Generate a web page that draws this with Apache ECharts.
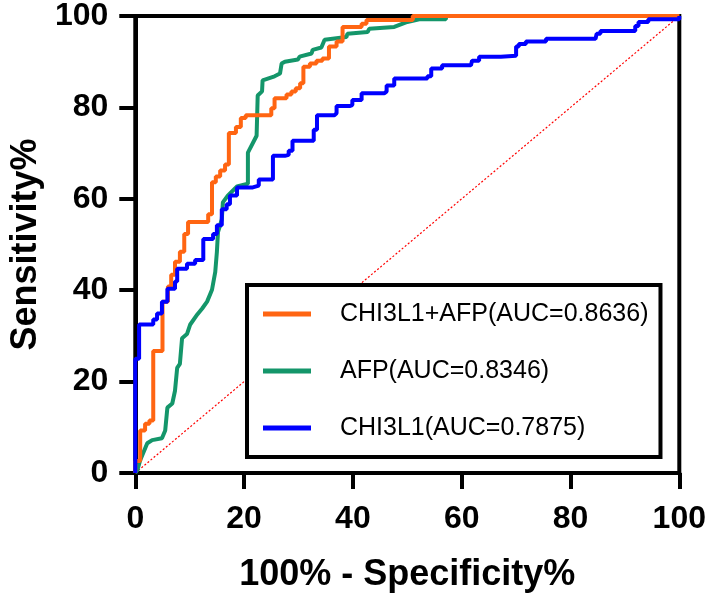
<!DOCTYPE html>
<html>
<head>
<meta charset="utf-8">
<script src="https://cdn.jsdelivr.net/npm/echarts@6/dist/echarts.min.js"></script>
<style>
html,body{margin:0;padding:0;background:#fff;}
#chart{width:709px;height:598px;}
</style>
</head>
<body>
<div id="chart"></div>
<script>
// ---- data (x = 100% - Specificity%, y = Sensitivity%) ----
const seriesNames = ['CHI3L1+AFP(AUC=0.8636)', 'AFP(AUC=0.8346)', 'CHI3L1(AUC=0.7875)'];
const axisTicks = [0, 20, 40, 60, 80, 100];

const comboROC = [[0,0],[0,2.6],[0.9,2.6],[0.9,9.3],[1.8,9.3],[1.8,10.8],[2.6,10.8],[2.6,11.5],[3.3,11.5],[3.3,26.7],[5.0,26.7],[5.0,37.5],[6.0,37.5],[6.0,40.8],[6.6,40.8],[6.6,43.4],[7.3,43.4],[7.3,46.2],[8.2,46.2],[8.2,48.4],[9.0,48.4],[9.0,52.3],[9.7,52.3],[9.7,54.9],[13.4,54.9],[13.4,56.6],[14.1,56.6],[14.1,63.6],[14.8,63.6],[14.8,64.9],[15.6,64.9],[15.6,66.2],[16.5,66.2],[16.5,67.5],[17.2,67.5],[17.2,74.4],[18.5,74.4],[18.5,75.7],[19.4,75.7],[19.4,77.7],[20.3,77.7],[20.3,78.3],[25.0,78.3],[25.0,79.8],[25.6,79.8],[25.6,82.0],[27.8,82.0],[27.8,82.8],[28.7,82.8],[28.7,83.5],[29.5,83.5],[29.5,84.2],[30.3,84.2],[30.3,85.3],[30.9,85.3],[30.9,88.9],[32.1,88.9],[32.1,89.6],[33.3,89.6],[33.3,90.2],[34.4,90.2],[34.4,90.7],[35.6,90.7],[35.6,93.3],[37.0,93.3],[37.0,94.4],[38.1,94.4],[38.1,97.6],[41.6,97.6],[41.6,98.3],[42.5,98.3],[42.5,99.1],[51.0,99.1],[51.0,100],[100,100]];

const afpROC = [[0,0],[0.4,0.7],[0.9,2.8],[2.2,6.5],[3.1,7.2],[4.9,7.6],[5.5,9.3],[5.9,14.3],[6.8,15.2],[7.3,18.0],[7.7,23.0],[8.2,23.9],[8.6,29.5],[9.5,30.4],[10.1,32.5],[11.4,34.7],[12.3,36.0],[13.2,37.5],[14.1,40.1],[14.7,44.0],[15.0,48.4],[15.2,52.7],[15.9,55.5],[16.1,59.2],[17.0,60.7],[18.7,62.7],[20.7,63.3],[20.7,70.1],[22.3,73.8],[22.5,82.6],[23.3,83.5],[23.4,85.9],[25.6,86.8],[26.6,87.4],[26.9,89.6],[27.5,90.0],[29.9,90.5],[30.2,91.1],[32.4,91.8],[32.6,92.6],[34.2,93.1],[34.8,94.8],[38.8,95.4],[39.0,96.1],[42.7,96.5],[43.0,97.2],[47.6,97.6],[50.0,98.7],[52.2,99.3],[57.1,99.3],[57.1,100],[100,100]];

const chi3l1ROC = [[0,0],[0,25],[0.7,25],[0.7,32.5],[2.7,32.5],[3.3,33.6],[4.0,34.9],[4.9,37.5],[5.9,40.3],[7.3,41.9],[7.7,44.7],[9.5,45.8],[11.0,46.6],[12.5,46.9],[12.5,51.2],[14.3,52.3],[15.0,54.2],[15.9,57.7],[16.8,58.8],[17.4,60.7],[18.7,62.5],[21.6,62.9],[22.7,64.2],[25.3,65.1],[25.3,69.4],[27.5,69.6],[28.2,70.5],[28.9,72.7],[32.4,72.7],[32.8,75.1],[33.4,78.3],[36.6,78.7],[37.0,80.3],[39.4,80.5],[39.9,81.6],[41.6,83.1],[45.8,83.5],[46.2,84.8],[47.6,86.3],[53.7,86.8],[54.4,88.5],[56.4,89.2],[61.7,89.2],[61.9,90.2],[63.2,91.1],[67.2,91.3],[70.0,93.3],[70.5,93.9],[71.8,94.4],[75.5,95.0],[84.6,95.0],[84.8,96.1],[85.5,96.7],[91.2,96.7],[91.9,97.8],[92.5,98.7],[94.3,99.3],[97.6,99.3],[100,100]];

const referenceLine = [[0,0],[100,100]];

const colors = ['#FF6512', '#14966A', '#0000FF'];

// ---- chart ----
const FONT = '"Liberation Sans", Arial, Helvetica, sans-serif';
const chart = echarts.init(document.getElementById('chart'), null, {renderer: 'canvas'});

const axisCommon = {
  type: 'value', min: 0, max: 100, interval: 20,
  splitLine: {show: false},
  axisLine: {show: true, onZero: false, lineStyle: {color: '#000', width: 4}},
  axisTick: {show: true, length: 16, lineStyle: {color: '#000', width: 4}},
  nameLocation: 'middle',
  nameTextStyle: {color: '#000', fontFamily: FONT, fontWeight: 'bold', fontSize: 36}
};

chart.setOption({
  animation: false,
  backgroundColor: '#fff',
  grid: {left: 135, right: 28, top: 12, bottom: 125, show: true, borderColor: '#000', borderWidth: 4, backgroundColor: 'transparent'},
  xAxis: Object.assign({}, axisCommon, {
    name: '100% - Specificity%', nameGap: 84,
    axisLabel: {color: '#000', fontFamily: FONT, fontWeight: 'bold', fontSize: 32, margin: 30,
      formatter: v => axisTicks.includes(v) ? String(v) : ''}
  }),
  yAxis: Object.assign({}, axisCommon, {
    name: 'Sensitivity%', nameGap: 90,
    axisLabel: {color: '#000', fontFamily: FONT, fontWeight: 'bold', fontSize: 32, margin: 27,
      formatter: v => axisTicks.includes(v) ? String(v) : ''}
  }),
  legend: {
    data: seriesNames,
    orient: 'vertical',
    left: 247, top: 285,
    padding: [14, 12, 14, 16],
    borderColor: '#000', borderWidth: 4,
    backgroundColor: '#fff',
    icon: 'rect', itemWidth: 48, itemHeight: 5,
    itemGap: 27,
    selectedMode: false,
    textStyle: {color: '#000', fontFamily: FONT, fontSize: 25, lineHeight: 30, padding: [0, 0, 0, 24]}
  },
  series: [
    {
      name: 'ref', type: 'line', data: referenceLine, symbol: 'none', silent: true, clip: false, z: 1,
      lineStyle: {color: '#FF0000', width: 1.2, type: [2, 2]}
    },
    {
      name: seriesNames[1], type: 'line', data: afpROC, symbol: 'none', clip: false, z: 2,
      color: colors[1], lineStyle: {color: colors[1], width: 4}
    },
    {
      name: seriesNames[0], type: 'line', data: comboROC, symbol: 'none', clip: false, z: 3,
      color: colors[0], lineStyle: {color: colors[0], width: 4}
    },
    {
      name: seriesNames[2], type: 'line', data: chi3l1ROC, symbol: 'none', clip: false, z: 4, step: 'end',
      color: colors[2], lineStyle: {color: colors[2], width: 4}
    }
  ]
});
</script>
</body>
</html>
